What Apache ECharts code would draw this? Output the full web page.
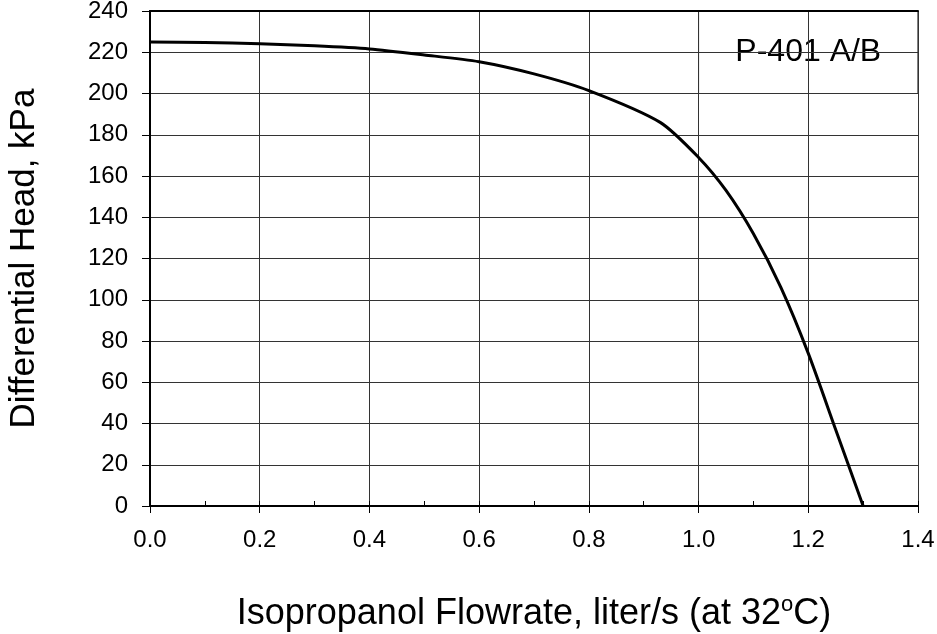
<!DOCTYPE html>
<html>
<head>
<meta charset="utf-8">
<script src="https://cdn.jsdelivr.net/npm/echarts@6/dist/echarts.min.js"></script>
<style>
html,body{margin:0;padding:0;background:#fff;}
#chart{width:937px;height:634px;}
</style>
</head>
<body>
<div id="chart"></div>
<script>
// Flowrate (liter/s) and differential head (kPa)
const flowrate = [0.0, 0.1, 0.2, 0.3, 0.4, 0.5, 0.6, 0.7, 0.8, 0.93, 1.0, 1.05, 1.1, 1.15, 1.2, 1.25, 1.3];
const headKPa  = [225, 224.7, 224.1, 223.1, 221.6, 218.7, 215.4, 209.5, 201.4, 186, 169, 153, 132, 106, 74, 37, 0];
const xTicks = [0.0, 0.2, 0.4, 0.6, 0.8, 1.0, 1.2, 1.4];
const yTicks = [0, 20, 40, 60, 80, 100, 120, 140, 160, 180, 200, 220, 240];
const boxLabel = 'P-401 A/B';
const boxRange = [[1.0, 240], [1.4, 200]];
const xTitle = 'Isopropanol Flowrate, liter/s (at 32{sup|o}C)';
const yTitle = 'Differential Head, kPa';

const FONT = '"Liberation Sans", Arial, sans-serif';
const chart = echarts.init(document.getElementById('chart'));
const xMin = xTicks[0], xMax = xTicks[xTicks.length - 1];
const yMin = yTicks[0], yMax = yTicks[yTicks.length - 1];

chart.setOption({
  animation: false,
  backgroundColor: '#fff',
  grid: { left: 150, right: 19, top: 11, bottom: 128, containLabel: false, outerBoundsMode: 'none' },
  xAxis: [
    {
      type: 'value', position: 'bottom', min: xMin, max: xMax, interval: 0.2,
      axisLine: { show: true, lineStyle: { color: '#000', width: 2 } },
      axisTick: { show: true, inside: false, length: 7, lineStyle: { color: '#000', width: 1 } },
      axisLabel: { color: '#000', fontSize: 24, fontFamily: FONT, margin: 22,
                   formatter: v => v.toFixed(1) },
      splitLine: { show: true, lineStyle: { color: '#333', width: 1 } },
      name: xTitle, nameLocation: 'middle', nameGap: 90,
      nameTextStyle: { color: '#000', fontSize: 36, fontFamily: FONT, lineHeight: 36,
        rich: { sup: { fontSize: 22, fontFamily: FONT, color: '#000', lineHeight: 22, padding: [0, 0, 19, 0] } } },
      z: 3
    },
    {
      // minor inside ticks
      type: 'value', position: 'bottom', offset: 0, min: xMin, max: xMax, interval: 0.1,
      axisLine: { show: false },
      axisTick: { show: true, inside: true, length: 5, lineStyle: { color: '#000', width: 1 } },
      axisLabel: { show: false }, splitLine: { show: false }, z: 3
    },
    {
      // top frame
      type: 'value', position: 'top', offset: 0, min: xMin, max: xMax,
      axisLine: { show: true, lineStyle: { color: '#000', width: 2 } },
      axisTick: { show: false }, axisLabel: { show: false }, splitLine: { show: false }, z: 10
    }
  ],
  yAxis: [
    {
      type: 'value', position: 'left', min: yMin, max: yMax, interval: 20,
      axisLine: { show: true, lineStyle: { color: '#000', width: 2 } },
      axisTick: { show: true, inside: false, length: 8, lineStyle: { color: '#000', width: 1 } },
      axisLabel: { color: '#000', fontSize: 24, fontFamily: FONT, margin: 22 },
      splitLine: { show: true, lineStyle: { color: '#333', width: 1 } },
      name: yTitle, nameLocation: 'middle', nameGap: 108, nameRotate: 90,
      nameTextStyle: { color: '#000', fontSize: 35, fontFamily: FONT },
      z: 3
    },
    {
      // right frame
      type: 'value', position: 'right', offset: 0, min: yMin, max: yMax,
      axisLine: { show: true, lineStyle: { color: '#000', width: 2 } },
      axisTick: { show: false }, axisLabel: { show: false }, splitLine: { show: false }, z: 10
    }
  ],
  series: [
    {
      type: 'line', xAxisIndex: 0, yAxisIndex: 0,
      data: flowrate.map((x, i) => [x, headKPa[i]]),
      smooth: 0.25, showSymbol: false, symbol: 'none',
      lineStyle: { color: '#000', width: 3 },
      markArea: {
        silent: true,
        itemStyle: { color: '#fff', borderColor: '#000', borderWidth: 1 },
        label: { show: true, position: 'inside', color: '#000', fontSize: 32, fontFamily: FONT },
        data: [[{ coord: boxRange[0], name: boxLabel }, { coord: boxRange[1] }]]
      }
    }
  ]
});
</script>
</body>
</html>
